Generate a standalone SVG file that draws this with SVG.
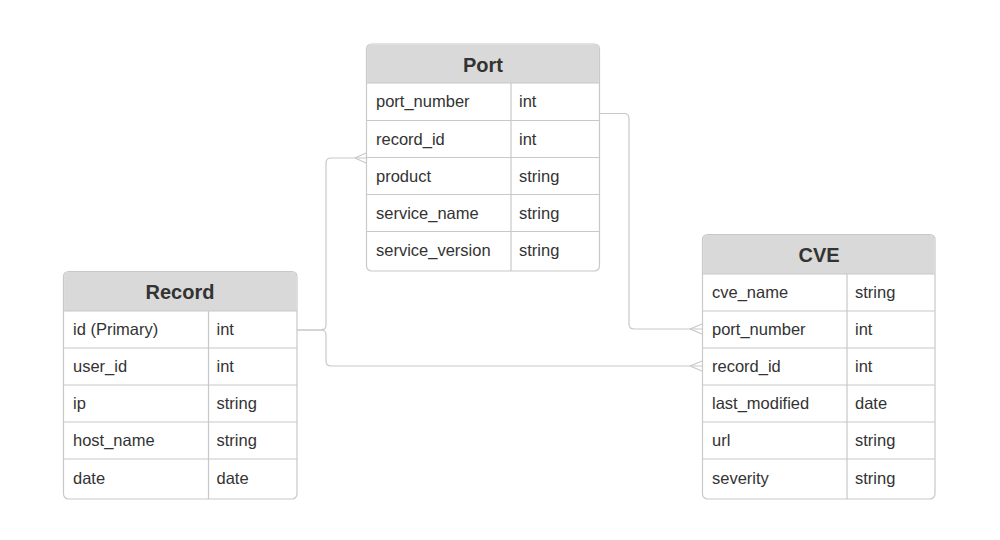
<svg xmlns="http://www.w3.org/2000/svg" width="1000" height="540" viewBox="0 0 1000 540">
<style>
.box{fill:#fff;stroke:#c8c8c8;stroke-width:1.2}
.hdr{fill:#d9d9d9}
.ln{stroke:#c8c8c8;stroke-width:1.2;fill:none}
.title{font-family:"Liberation Sans",Arial,sans-serif;font-size:20px;font-weight:bold;fill:#333;text-anchor:middle}
.f{font-family:"Liberation Sans",Arial,sans-serif;font-size:16.5px;fill:#333}
.conn{stroke:#c8c8c8;stroke-width:1.2;fill:none}
</style>
<rect width="1000" height="540" fill="#fff"/>
<g id="connectors">
<path class="conn" d="M297,330 H321 Q326,330 326,325 V163 Q326,158 331,158 H366"/>
<path class="conn" d="M355,158 L366,153 M355,158 L366,163"/>
<path class="conn" d="M297,330 H321 Q326,330 326,335 V361 Q326,366 331,366 H702"/>
<path class="conn" d="M690,366 L702,361 M690,366 L702,371"/>
<path class="conn" d="M599,113.5 H624 Q629,113.5 629,118.5 V324 Q629,329 634,329 H702"/>
<path class="conn" d="M690,329 L702,324 M690,329 L702,334"/>
</g>
<g id="port">
<rect class="box" x="366.5" y="44" width="233" height="227" rx="5"/>
<path class="hdr" d="M367.1,83 V49 Q367.1,44.6 371.5,44.6 H594.5 Q598.9,44.6 598.9,49 V83 Z"/>
<path class="ln" d="M366.5,83 H599.5 M366.5,120.5 H599.5 M366.5,157.5 H599.5 M366.5,194.5 H599.5 M366.5,231.5 H599.5 M511,83 V271"/>
<text class="title" x="483" y="71.5">Port</text>
<text class="f" x="376" y="107">port_number</text><text class="f" x="519" y="107">int</text>
<text class="f" x="376" y="144.5">record_id</text><text class="f" x="519" y="144.5">int</text>
<text class="f" x="376" y="181.5">product</text><text class="f" x="519" y="181.5">string</text>
<text class="f" x="376" y="218.5">service_name</text><text class="f" x="519" y="218.5">string</text>
<text class="f" x="376" y="256">service_version</text><text class="f" x="519" y="256">string</text>
</g>
<g id="record">
<rect class="box" x="63.5" y="271.5" width="233.5" height="227.5" rx="5"/>
<path class="hdr" d="M64.1,311 V276.5 Q64.1,272.1 68.5,272.1 H292 Q296.4,272.1 296.4,276.5 V311 Z"/>
<path class="ln" d="M63.5,311 H297 M63.5,348 H297 M63.5,385 H297 M63.5,422 H297 M63.5,459 H297 M208.5,311 V499"/>
<text class="title" x="180" y="299">Record</text>
<text class="f" x="73" y="335">id (Primary)</text><text class="f" x="216.5" y="335">int</text>
<text class="f" x="73" y="372">user_id</text><text class="f" x="216.5" y="372">int</text>
<text class="f" x="73" y="409">ip</text><text class="f" x="216.5" y="409">string</text>
<text class="f" x="73" y="446">host_name</text><text class="f" x="216.5" y="446">string</text>
<text class="f" x="73" y="484">date</text><text class="f" x="216.5" y="484">date</text>
</g>
<g id="cve">
<rect class="box" x="702.5" y="234.5" width="232.5" height="264.5" rx="5"/>
<path class="hdr" d="M703.1,274 V239.5 Q703.1,235.1 707.5,235.1 H930 Q934.4,235.1 934.4,239.5 V274 Z"/>
<path class="ln" d="M702.5,274 H935 M702.5,311 H935 M702.5,348 H935 M702.5,385 H935 M702.5,422 H935 M702.5,459 H935 M847,274 V499"/>
<text class="title" x="819" y="262">CVE</text>
<text class="f" x="712" y="298">cve_name</text><text class="f" x="855" y="298">string</text>
<text class="f" x="712" y="335">port_number</text><text class="f" x="855" y="335">int</text>
<text class="f" x="712" y="372">record_id</text><text class="f" x="855" y="372">int</text>
<text class="f" x="712" y="409">last_modified</text><text class="f" x="855" y="409">date</text>
<text class="f" x="712" y="446">url</text><text class="f" x="855" y="446">string</text>
<text class="f" x="712" y="484">severity</text><text class="f" x="855" y="484">string</text>
</g>
</svg>
